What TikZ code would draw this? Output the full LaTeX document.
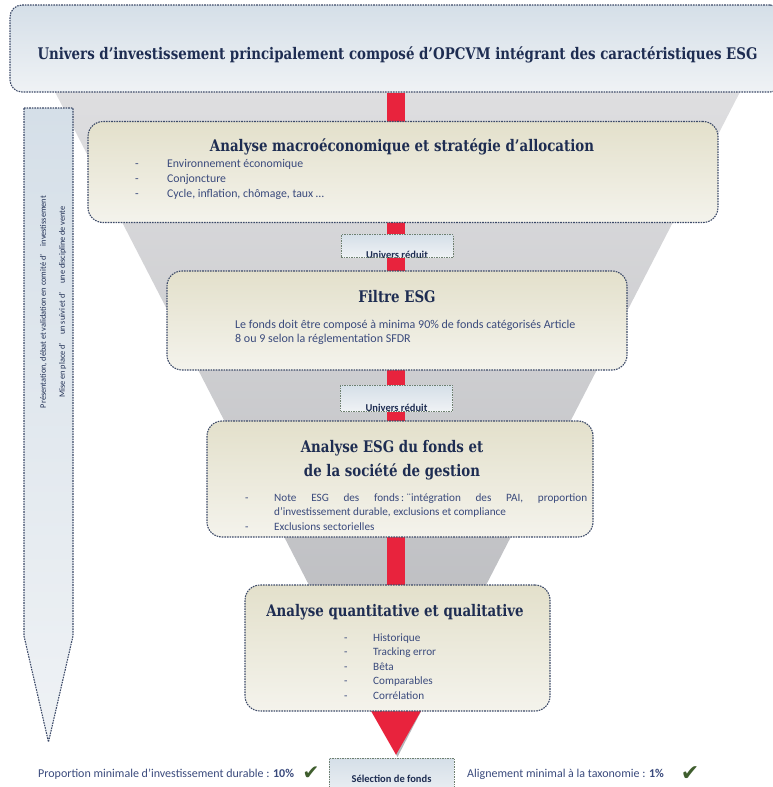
\documentclass[tikz,border=0pt]{standalone}
\usepackage{fontspec}
\setmainfont{Carlito}
\newfontfamily\titrefont[FakeStretch=0.835]{DejaVu Serif}
\newfontfamily\symbfont{DejaVu Sans}
\usepackage{tikz}
\usetikzlibrary{arrows.meta,shapes}
\usetikzlibrary{positioning,backgrounds}
\definecolor{navy}{HTML}{1E2D52}
\definecolor{texte}{HTML}{3A4A7C}
\definecolor{bord}{HTML}{3C4A68}
\definecolor{bordvert}{HTML}{6F8070}
\definecolor{beigehaut}{HTML}{E3E0CB}
\definecolor{beigebas}{HTML}{F4F3EC}
\definecolor{bleuhaut}{HTML}{D5DFE8}
\definecolor{bleubas}{HTML}{EFF2F5}
\definecolor{rouge}{HTML}{E8233D}
\definecolor{grishaut}{HTML}{DEDEE0}
\definecolor{grisbas}{HTML}{B5B6BA}
\definecolor{vert}{HTML}{3F5E2E}
\tikzstyle{etape} = [draw=bord, dash pattern=on 1.6pt off 1pt, line width=1.1pt,
    rounded corners=15pt, top color=beigehaut, bottom color=beigebas]
\tikzstyle{entete} = [etape, rounded corners=12pt, top color=bleuhaut, bottom color=bleubas]
\tikzstyle{reduit} = [draw=bordvert, dash pattern=on 1.5pt off 1pt, line width=0.8pt,
    top color=bleuhaut, bottom color=bleubas, minimum width=112pt, inner sep=0pt]
\tikzstyle{titre} = [text=navy, font=\titrefont\bfseries\fontsize{16}{24}\selectfont, align=center]
\tikzstyle{liste} = [text=texte, font=\fontsize{11.2}{14.5}\selectfont, anchor=base west, inner sep=0pt]
\tikzstyle{bas} = [text=texte, font=\fontsize{12}{14}\selectfont, anchor=base west, inner sep=0pt]
\tikzstyle{coche} = [text=vert, font=\symbfont, inner sep=0pt]
\tikzstyle{barre} = [rouge, line width=18pt, -{Triangle[width=48pt,length=46pt]}, shorten >=2pt]

\begin{document}
\begin{tikzpicture}[x=1pt, y=-1pt]
  \useasboundingbox (0,0) rectangle (772,787);
  % univers de depart
  \node [entete, minimum width=772pt, minimum height=87pt] (univers) at (396,48.5) {};
  \node [titre] (titreunivers) at (397.5,55) {Univers d’investissement principalement composé d’OPCVM intégrant des caractéristiques ESG};

  % fleche de gauche
  \draw [draw=bord, dash pattern=on 1.6pt off 1pt, line width=1.1pt, top color=bleuhaut, bottom color=bleubas]
    (24,108) -- (73,108) -- (73,636) -- (48.5,742) -- (24,636) -- cycle;
  \node [rotate=90, text=navy, font=\fontsize{8.3}{19}\selectfont, align=center] (comite) at (53,302)
    {Présentation, débat et validation en comité d’\quad investissement\\
     Mise en place d’\quad un suivi et d’\quad une discipline de vente};

  % etapes
  \node [etape, minimum width=630pt, minimum height=101pt] (macro) at (403,172) {};
  \node [titre] (titremacro) at (402,147) {Analyse macroéconomique et stratégie d’allocation};
  \node [liste, font=\fontsize{11.8}{15}\selectfont] (listemacro) at (135,167) {\begin{tabular}[t]{@{}p{32pt}@{}l@{}}
    - & Environnement économique\\ - & Conjoncture\\ - & Cycle, inflation, chômage, taux …\end{tabular}};

  \node [reduit, minimum height=23pt, path picture={\node [text=navy, font=\bfseries\fontsize{10.5}{12}\selectfont,
    anchor=base] at ([yshift=-0.5pt]path picture bounding box.south) {Univers réduit};}] (reduit1) at (397,246) {};

  \node [etape, minimum width=460pt, minimum height=99pt] (filtre) at (397,320.5) {};
  \node [titre] (titrefiltre) at (397,297) {Filtre ESG};
  \node [bas] (textefiltre) at (235,328) {\begin{tabular}[t]{@{}l@{}}
    Le fonds doit être composé à minima 90\% de fonds catégorisés Article\\ 8 ou 9 selon la réglementation SFDR\end{tabular}};

  \node [reduit, minimum height=26pt, path picture={\node [text=navy, font=\bfseries\fontsize{10.5}{12}\selectfont,
    anchor=base] at ([yshift=-0.5pt]path picture bounding box.south) {Univers réduit};}] (reduit2) at (396.5,398) {};

  \node [etape, minimum width=386pt, minimum height=116pt] (esg) at (400,479) {};
  \node [titre] (titreesg) at (392,460) {Analyse ESG du fonds et\\ de la société de gestion};
  \node [liste] (listeesg) at (245,501) {\begin{tabular}[t]{@{}p{29pt}@{}p{313pt}@{}}
    - & Note ESG des \mbox{fonds\,:\ ¨intégration} des PAI, proportion\linebreak d’investissement durable, exclusions et compliance\\
    - & Exclusions sectorielles\end{tabular}};

  \node [etape, minimum width=305pt, minimum height=126pt] (quanti) at (397.5,648) {};
  \node [titre] (titrequanti) at (395,612) {Analyse quantitative et qualitative};
  \node [liste] (listequanti) at (344,641) {\begin{tabular}[t]{@{}p{29pt}@{}l@{}}
    - & Historique\\ - & Tracking error\\ - & Bêta\\ - & Comparables\\ - & Corrélation\end{tabular}};

  \node [reduit, minimum width=125pt, minimum height=42pt, text=navy, font=\bfseries\fontsize{10.5}{12}\selectfont]
    (selection) at (391.5,779) {Sélection de fonds};

  % criteres du bas
  \node [bas] (durable) at (38,777) {Proportion minimale d’investissement durable : \textbf{10\%}};
  \node [coche, font=\symbfont\fontsize{20}{20}\selectfont] (cochedurable) at (311,773) {✔};
  \node [bas] (taxonomie) at (467,777) {Alignement minimal à la taxonomie : \textbf{1\%}};
  \node [coche, font=\symbfont\fontsize{22}{22}\selectfont] (cochetaxonomie) at (690,774) {✔};

  % entonnoir et fleche rouge derriere
  \begin{scope}[on background layer]
    \shade [top color=grishaut, bottom color=grisbas] (54,90) -- (741,90) -- (397.5,757) -- cycle;
    \draw [barre] (univers.south) -- (univers.south |- selection.north);
  \end{scope}
\end{tikzpicture}
\end{document}
